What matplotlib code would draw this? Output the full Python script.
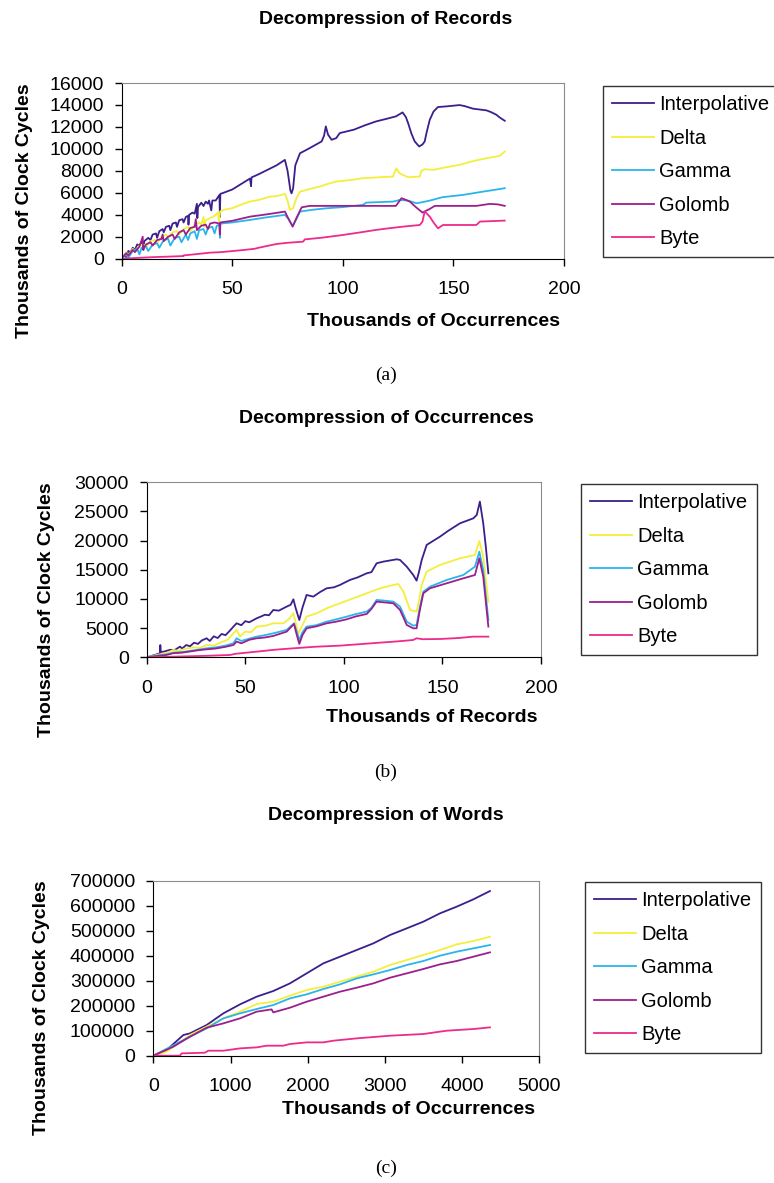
import matplotlib.pyplot as plt

plt.rcParams['font.family'] = ['Liberation Sans', 'DejaVu Sans']

W, H = 774, 1183

series_names = ["Interpolative", "Delta", "Gamma", "Golomb", "Byte"]
colors = ["#3c1f8c", "#f4ee3c", "#2bb4ec", "#9b1f8c", "#ec2b8c"]

# ---- (a) Decompression of Records ----
a_interp_x = [0, 1.5, 2, 3, 4, 5, 6, 7, 8, 9, 9.8, 9.8, 10.2, 12, 13, 14, 15.5, 16, 17, 18.5, 19, 20, 21.5, 22, 23, 24.5, 25,
              26, 27.5, 28, 29, 30, 30.2, 30.5, 32, 33, 34, 34.2, 34.5, 36, 37, 38, 39, 39.5, 40.5, 41, 42.5, 43.5, 44.2,
              44.4, 44.6, 46, 50, 54, 58, 58.5, 58.7, 62, 66, 70, 73.8, 75, 76.3, 76.8, 77.5, 78.5, 80.6, 85, 90.4, 91.5,
              92.3, 93.3, 94.9, 97, 98.6, 105, 110, 115, 120, 124, 127, 128.5, 129.5, 131, 132.5, 134.5, 136, 137, 138,
              139.3, 141, 143, 146.8, 152.8, 155, 158.9, 164.9, 167, 169.4, 171, 173.2]
a_interp_y = [0, 400, 150, 700, 600, 1000, 800, 1300, 1200, 1500, 1500, 800, 1600, 1900, 1700, 2200, 2300, 1900, 2500, 2700,
              2400, 2900, 3000, 2600, 3200, 3300, 2900, 3500, 3600, 3300, 3800, 3900, 3100, 4000, 4200, 4100, 5000, 3700,
              4700, 5100, 4800, 5200, 5000, 5300, 4400, 5300, 5300, 5600, 5800, 3800, 5900, 6000, 6300, 6800, 7300, 6600,
              7400, 7700, 8100, 8500, 9000, 8000, 6200, 5950, 6400, 8500, 9600, 10070, 10680, 11200, 12050, 11300, 10830,
              10980, 11440, 11750, 12150, 12500, 12750, 12960, 13320, 12900, 12350, 11400, 10680, 10220, 10400, 10680,
              11600, 12650, 13400, 13810, 13870, 13990, 13900, 13660, 13510, 13350, 13110, 12850, 12560]

a_delta_x = [0, 2, 3, 5, 6, 8, 10, 11, 13, 15, 16, 18, 20, 21, 23, 25, 26, 28, 30, 31, 33, 35, 36, 37, 37.3, 38, 40, 42,
             43.5, 44, 44.5, 46, 50, 55, 58, 62, 67, 70, 73.8, 75, 76, 77.5, 79, 80.6, 85, 89.6, 93, 97, 103, 109, 115,
             122.7, 123.5, 124.2, 125.5, 127, 129.5, 132, 134.8, 135.5, 137, 140.8, 146, 152.8, 160, 165, 171, 173.2]
a_delta_y = [0, 600, 300, 900, 700, 1200, 1300, 1000, 1600, 1700, 1400, 2000, 2200, 1900, 2400, 2500, 2200, 2700, 2900,
             2500, 3100, 3300, 3100, 3800, 2900, 3500, 3700, 3900, 4200, 3400, 4300, 4450, 4600, 5000, 5200, 5350, 5650,
             5700, 5900, 5300, 4450, 4600, 5500, 6100, 6350, 6570, 6800, 7030, 7150, 7330, 7400, 7480, 7900, 8240, 7800,
             7640, 7420, 7450, 7480, 8000, 8150, 8090, 8300, 8550, 8940, 9150, 9370, 9760]

a_gamma_x = [0, 2, 3, 5, 7, 8, 9, 11, 12, 14, 16, 17, 19, 21, 22, 24, 26, 27, 29, 30, 31, 33, 34, 35, 37, 38, 39, 41, 42,
             43, 44.2, 44.4, 44.6, 50, 58, 65, 73.8, 75.5, 77.3, 79, 80.6, 86, 92.6, 100, 109, 110.7, 116, 122.7, 125.7,
             129.5, 133.3, 136, 139.3, 145, 154.4, 163.4, 168, 173.2]
a_gamma_y = [0, 400, 100, 700, 900, 400, 1000, 1100, 700, 1300, 1400, 1000, 1700, 1800, 1200, 1900, 2000, 1500, 2200,
             1700, 2300, 2500, 1800, 2600, 2700, 2200, 2800, 2900, 2300, 3000, 3100, 1900, 3200, 3300, 3530, 3750, 3990,
             3600, 2980, 3600, 4290, 4450, 4590, 4700, 4900, 5110, 5150, 5200, 5350, 5290, 5050, 5150, 5290, 5600, 5810,
             6110, 6250, 6420]

a_golomb_x = [0, 2, 3, 5, 6, 8, 9.5, 9.7, 11, 13, 14, 16, 18, 18.5, 19, 21, 23, 24, 26, 28, 29, 31, 33, 33.5, 34, 36, 38,
              39, 40, 42, 44.2, 44.4, 44.6, 50, 58, 66, 73.8, 75.5, 77.3, 79, 81.4, 85, 93.4, 110, 124, 126.5, 128,
              130.3, 133, 136, 139, 141.6, 160.4, 166.4, 170, 173.2]
a_golomb_y = [0, 500, 300, 800, 600, 1100, 2000, 900, 1300, 1500, 1200, 1700, 1800, 2200, 1600, 2000, 2200, 1800, 2400,
              2600, 2200, 2800, 2900, 3600, 2600, 3000, 3100, 2700, 3200, 3300, 3200, 2200, 3300, 3450, 3830, 4050, 4290,
              3600, 2920, 3700, 4680, 4810, 4810, 4810, 4810, 5510, 5400, 5200, 4700, 4200, 4500, 4810, 4810, 4990, 4950,
              4810]

a_byte_x = [0, 5, 10, 15, 20, 27.9, 28, 33, 39.9, 45, 55, 60, 62, 70, 75, 82, 82.8, 90, 100, 108, 115, 120, 127.2, 134.8,
            136, 137, 138, 139.3, 141, 143, 145.3, 160.4, 162, 173.2]
a_byte_y = [0, 50, 100, 150, 180, 240, 300, 400, 550, 600, 790, 900, 1000, 1340, 1450, 1550, 1760, 1900, 2160, 2400, 2620,
            2750, 2920, 3070, 3380, 4290, 4100, 3830, 3300, 2770, 3070, 3070, 3380, 3470]

# ---- (b) Decompression of Occurrences ----
b_interp_x = [0, 3, 5, 6.8, 6.9, 7.1, 9, 12, 14, 16.9, 18, 20, 22, 24, 26, 28, 30.4, 32, 34, 36, 38, 40, 42, 44, 45.6, 48,
              50, 52, 55.8, 58, 60, 62, 64.2, 67, 71, 73, 74.4, 75.5, 77.4, 79, 81.1, 84.5, 88, 91.3, 95, 98, 103.1, 107,
              111.6, 114, 116.6, 120, 126.8, 128.5, 131.9, 135.2, 136.9, 138, 139.5, 142, 148.8, 153, 158.9, 165.7,
              167.4, 169, 170.7, 172, 173.3]
b_interp_y = [0, 300, 500, 700, 2100, 900, 1000, 1300, 1200, 1830, 1500, 2100, 1900, 2500, 2300, 2900, 3260, 2800, 3600,
              3300, 4000, 3800, 4500, 5260, 5830, 5500, 6200, 6000, 6690, 7000, 7300, 7200, 8110, 8000, 8690, 9000, 9940,
              8500, 6400, 8500, 10690, 10400, 11200, 11830, 12000, 12400, 13260, 13700, 14400, 14600, 16110, 16400,
              16800, 16690, 15540, 14110, 13140, 14500, 16690, 19260, 20690, 21700, 22970, 23830, 24400, 26690, 22970,
              19000, 14400]

b_delta_x = [0, 5, 8, 10, 13.5, 16, 20, 24, 27, 30.4, 34, 38, 41, 44, 45.6, 47.3, 50, 53, 55.8, 60, 64.2, 69.3, 72, 74.4,
             76.9, 79, 81.1, 86.2, 91.3, 98, 104.8, 111.6, 118.3, 124, 127.6, 130.2, 133.6, 136.9, 138, 139.5, 142,
             148.8, 158.9, 166.5, 168.7, 170.7, 173.3]
b_delta_y = [0, 400, 600, 700, 1260, 1100, 1500, 1700, 1600, 2110, 2000, 2600, 3000, 4110, 4690, 3540, 4400, 4300, 5260,
             5400, 5830, 5830, 6500, 7540, 4110, 5500, 6970, 7540, 8400, 9260, 10110, 10970, 11830, 12300, 12570, 11260,
             8110, 7830, 9500, 12400, 14690, 15830, 16970, 17540, 19940, 17260, 9540]

b_gamma_x = [0, 5, 10, 13.5, 18, 22, 26, 30.4, 35, 40, 44, 45.6, 48, 52, 55.8, 60, 64.2, 71, 74.7, 76, 77.4, 79, 81.1, 86,
             91.3, 96, 101.4, 106, 111.6, 114, 116.6, 121, 125.1, 128.5, 131.9, 135.2, 136.9, 138.5, 140.3, 143.7,
             152.2, 160.6, 166.5, 168.7, 170.7, 173.3]
b_gamma_y = [0, 300, 500, 800, 900, 1100, 1300, 1540, 1700, 2000, 2400, 3260, 2800, 3200, 3540, 3800, 4110, 4690, 5830,
             4500, 2970, 4300, 5260, 5500, 6110, 6500, 6970, 7400, 7830, 8500, 9830, 9700, 9540, 8690, 6110, 5430, 5540,
             8500, 11260, 12110, 13260, 14110, 15540, 18110, 14970, 6400]

b_golomb_x = b_gamma_x
b_golomb_y = [0, 200, 400, 700, 800, 1000, 1200, 1370, 1500, 1800, 2110, 2690, 2400, 3000, 3260, 3400, 3660, 4400, 5710,
              4000, 2290, 3800, 4970, 5300, 5830, 6100, 6510, 7000, 7430, 8300, 9540, 9400, 9260, 8110, 5540, 4970, 4970,
              8000, 10970, 11830, 12690, 13540, 14110, 16970, 13830, 5260]

b_byte_x = [0, 13.5, 30, 42.3, 45, 55.8, 65, 74.4, 85, 98, 108, 118.3, 128, 135.2, 136.9, 140, 148.8, 158, 165.7, 173.3]
b_byte_y = [0, 110, 250, 400, 600, 970, 1300, 1540, 1800, 2000, 2250, 2510, 2750, 2970, 3260, 3100, 3140, 3300, 3540, 3540]

# ---- (c) Decompression of Words ----
c_interp_x = [0, 173, 389, 475, 691, 907, 1123, 1338, 1554, 1770, 1986, 2202, 2418, 2634, 2850, 3066, 3282, 3497, 3713,
              3929, 4145, 4361]
c_interp_y = [0, 22700, 82700, 89300, 122700, 169300, 205300, 236000, 258700, 289300, 329300, 369300, 396000, 422700,
              449300, 482700, 509300, 536000, 569300, 596000, 625300, 658700]

c_delta_x = [0, 173, 475, 691, 907, 1123, 1338, 1554, 1770, 1986, 2202, 2418, 2634, 2850, 3066, 3282, 3497, 3713, 3929,
             4145, 4361]
c_delta_y = [0, 16000, 82700, 116000, 149300, 176000, 206700, 216000, 240000, 262700, 276000, 296000, 316000, 336000,
             362700, 382700, 402700, 422700, 445300, 458700, 476000]

c_gamma_x = [0, 475, 691, 907, 1123, 1338, 1554, 1770, 1986, 2202, 2418, 2634, 2850, 3066, 3282, 3497, 3713, 3929, 4145,
             4361]
c_gamma_y = [0, 76000, 109300, 149300, 169300, 186700, 202700, 229300, 245300, 266700, 285300, 309300, 325300, 342700,
             362700, 378700, 400000, 416000, 429300, 442700]

c_golomb_x = [0, 259, 475, 691, 907, 1123, 1338, 1532, 1554, 1770, 1986, 2202, 2418, 2634, 2850, 3066, 3282, 3497, 3713,
              3929, 4145, 4361]
c_golomb_y = [0, 36000, 76000, 112000, 129300, 149300, 176000, 185300, 173300, 192000, 216000, 236000, 256000, 272000,
              289300, 312000, 329300, 346700, 365300, 378700, 396000, 413300]

c_byte_x = [0, 345, 367, 669, 713, 907, 1123, 1338, 1468, 1684, 1770, 1986, 2202, 2332, 2634, 3066, 3497, 3800, 4145,
            4361]
c_byte_y = [0, 0, 9300, 12000, 20000, 20000, 29300, 33300, 40000, 40000, 46700, 53300, 53300, 60000, 69300, 80000, 86700,
            100000, 106700, 113300]

panels = [
    dict(rect=(121.7, 83, 564, 258.7), ymax=16000, ystep=2000, xmax=200, xstep=50,
         title="Decompression of Records", title_y=20, xlabel="Thousands of Occurrences", xlabel_y=321,
         ylabel_x=25, caption="(a)", caption_y=375, leg=(603, 86),
         data=[(a_interp_x, a_interp_y), (a_delta_x, a_delta_y), (a_gamma_x, a_gamma_y),
               (a_golomb_x, a_golomb_y), (a_byte_x, a_byte_y)]),
    dict(rect=(146.7, 482.3, 541, 657.3), ymax=30000, ystep=5000, xmax=200, xstep=50,
         title="Decompression of Occurrences", title_y=418, xlabel="Thousands of Records", xlabel_y=718,
         ylabel_x=47, caption="(b)", caption_y=772, leg=(581, 484),
         data=[(b_interp_x, b_interp_y), (b_delta_x, b_delta_y), (b_gamma_x, b_gamma_y),
               (b_golomb_x, b_golomb_y), (b_byte_x, b_byte_y)]),
    dict(rect=(153.3, 880.7, 539.3, 1055.7), ymax=700000, ystep=100000, xmax=5000, xstep=1000,
         title="Decompression of Words", title_y=816, xlabel="Thousands of Occurrences", xlabel_y=1110,
         ylabel_x=42, caption="(c)", caption_y=1168, leg=(585, 882),
         data=[(c_interp_x, c_interp_y), (c_delta_x, c_delta_y), (c_gamma_x, c_gamma_y),
               (c_golomb_x, c_golomb_y), (c_byte_x, c_byte_y)]),
]

fig = plt.figure(figsize=(W / 100, H / 100), dpi=100)

for p in panels:
    l, t, r, b = p["rect"]
    ax = fig.add_axes([l / W, 1 - b / H, (r - l) / W, (b - t) / H])
    for (xs, ys), name, c in zip(p["data"], series_names, colors):
        ax.plot(xs, ys, color=c, lw=1.3, label=name)
    ax.set_xlim(0, p["xmax"])
    ax.set_ylim(0, p["ymax"])
    ax.set_xticks(range(0, p["xmax"] + 1, p["xstep"]))
    ax.set_yticks(range(0, p["ymax"] + 1, p["ystep"]))
    for s in ["top", "right"]:
        ax.spines[s].set_color("#8c8c8c")
    for s in ["left", "bottom"]:
        ax.spines[s].set_color("black")
    ax.tick_params(axis="both", direction="out", length=5, width=1, labelsize=14)
    ax.tick_params(axis="y", pad=8)
    ax.tick_params(axis="x", pad=11)

    leg = ax.legend(loc="upper left", bbox_to_anchor=(p["leg"][0] / W, 1 - p["leg"][1] / H),
                    bbox_transform=fig.transFigure, borderaxespad=0, fontsize=14.5, frameon=True,
                    fancybox=False, handlelength=2.1, handletextpad=0.25, labelspacing=0.72, borderpad=0.45)
    leg.get_frame().set_edgecolor("black")
    leg.get_frame().set_linewidth(1)

    fig.text(386 / W, 1 - p["title_y"] / H, p["title"], ha="center", va="center", fontsize=14, weight="bold")
    fig.text((r - 4) / W, 1 - p["xlabel_y"] / H, p["xlabel"], ha="right", va="center", fontsize=14, weight="bold")
    fig.text(p["ylabel_x"] / W, 1 - t / H, "Thousands of Clock Cycles", ha="center", va="top",
             rotation=90, fontsize=14, weight="bold")
    fig.text(386 / W, 1 - p["caption_y"] / H, p["caption"], ha="center", va="center", fontsize=14,
             family="Liberation Serif")

fig.savefig("out.png", dpi=100)
